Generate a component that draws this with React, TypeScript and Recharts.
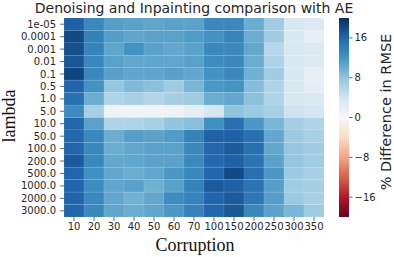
import React from 'react';
import { BarChart, Bar, XAxis, YAxis, Cell } from 'recharts';

const CORRUPTION = ['10', '20', '30', '40', '50', '60', '70', '100', '150', '200', '250', '300', '350'];

const LAMBDAS = [
  '1e-05', '0.0001', '0.001', '0.01', '0.1', '0.5', '1.0', '5.0',
  '10.0', '50.0', '100.0', '200.0', '500.0', '1000.0', '2000.0', '3000.0',
];

// % difference in RMSE, one row per lambda, one column per corruption level
const PCT_DIFF = [
  [16.4, 13.0, 11.1, 10.8, 10.6, 10.8, 10.8, 13.0, 13.0, 10.0, 7.1, 3.3, 3.0],
  [18.1, 13.6, 11.1, 10.6, 10.8, 10.8, 11.3, 12.1, 13.4, 10.0, 7.1, 3.2, 1.7],
  [17.7, 13.4, 10.6, 12.1, 10.8, 10.4, 10.8, 13.0, 13.0, 10.4, 5.6, 3.3, 2.8],
  [17.1, 13.0, 10.9, 10.4, 10.6, 10.5, 10.9, 12.5, 13.0, 10.0, 6.3, 3.2, 2.8],
  [18.4, 13.0, 10.9, 10.5, 10.6, 10.9, 10.4, 12.1, 13.0, 9.7, 7.1, 3.2, 1.5],
  [16.0, 12.1, 7.8, 8.9, 8.3, 7.1, 9.2, 11.6, 12.0, 8.6, 6.1, 3.3, 2.0],
  [15.1, 10.0, 6.1, 6.6, 6.0, 6.8, 7.1, 10.0, 10.4, 8.3, 6.1, 3.3, 3.0],
  [12.7, 6.6, 1.0, 0.6, 0.6, 0.8, 2.0, 3.5, 8.1, 7.4, 6.6, 4.1, 3.7],
  [15.8, 10.8, 6.1, 6.1, 6.6, 8.0, 8.5, 12.3, 15.1, 11.6, 9.2, 6.8, 6.1],
  [15.8, 13.0, 10.0, 11.1, 10.8, 11.3, 13.5, 16.4, 16.4, 15.1, 10.4, 7.4, 6.6],
  [16.0, 13.0, 10.0, 10.4, 10.8, 10.8, 13.0, 15.8, 16.9, 15.1, 10.4, 7.8, 7.1],
  [16.9, 13.0, 10.4, 10.5, 10.8, 10.8, 13.0, 15.8, 16.4, 14.8, 10.8, 7.9, 7.1],
  [16.0, 12.3, 10.4, 10.0, 10.5, 11.6, 13.0, 16.0, 18.1, 15.1, 11.6, 7.4, 6.6],
  [16.0, 12.5, 10.5, 10.8, 9.7, 10.8, 13.5, 16.8, 16.4, 14.8, 11.1, 7.1, 6.8],
  [16.0, 13.0, 10.4, 9.6, 10.4, 12.5, 13.5, 16.0, 16.9, 14.5, 11.1, 7.4, 6.6],
  [16.0, 13.0, 10.6, 10.0, 10.6, 11.6, 13.5, 16.0, 17.1, 13.0, 10.8, 9.2, 7.1],
];

const CBAR_RANGE = [-20, 20];
const CBAR_TICKS = [-16, -8, 0, 8, 16];

// matplotlib RdBu, low -> high
const RDBU = [
  '#67001f', '#b2182b', '#d6604d', '#f4a582', '#fddbc7', '#f7f7f7',
  '#d1e5f0', '#92c5de', '#4393c3', '#2166ac', '#053061',
];

const hexToRgb = (h: string) => [1, 3, 5].map(i => parseInt(h.slice(i, i + 2), 16));

const rdbu = (v: number) => {
  const [lo, hi] = CBAR_RANGE;
  const t = Math.min(1, Math.max(0, (v - lo) / (hi - lo))) * (RDBU.length - 1);
  const i = Math.min(RDBU.length - 2, Math.floor(t));
  const f = t - i;
  const a = hexToRgb(RDBU[i]);
  const b = hexToRgb(RDBU[i + 1]);
  const c = a.map((x, k) => Math.round(x + (b[k] - x) * f));
  return `rgb(${c[0]},${c[1]},${c[2]})`;
};

const fmtTick = (v: number) => (v < 0 ? `\u2212${Math.abs(v)}` : String(v));

const TEXT = '#262626';
const SANS = '"DejaVu Sans", sans-serif';
const SERIF = '"Liberation Serif", serif';

const heatData = CORRUPTION.map(c => {
  const row: { [key: string]: any } = { corr: c };
  LAMBDAS.forEach((_, i) => { row[`r${i}`] = 1; });
  return row;
});

const cbarData = [{ name: 'cbar', range: CBAR_RANGE }];

const App: React.FC = () => {
  return (
    <div style={{ position: 'absolute', left: 0, top: 0, width: 394, height: 257, background: '#fff', fontFamily: SANS }}>
      <div style={{ position: 'absolute', left: 0, top: 0, width: 388, textAlign: 'center', fontSize: 14, lineHeight: '17px', color: TEXT, whiteSpace: 'nowrap' }}>
        Denoising and Inpainting comparison with AE
      </div>

      <div style={{ position: 'absolute', left: 0, top: 0 }}>
        <BarChart width={394} height={257} data={heatData} barCategoryGap={0} barGap={0}
          margin={{ top: 18, right: 70, bottom: 18, left: 7 }}>
          <XAxis dataKey="corr" interval={0} axisLine={false} tickSize={4} tickMargin={2}
            tick={{ fontSize: 10, fill: TEXT }} tickLine={{ stroke: '#444', strokeWidth: 0.8 }} height={22}
            label={() => (
              <text x={195} y={251} textAnchor="middle" fontSize={18} fontFamily={SERIF} fill="#111">Corruption</text>
            )} />
          <YAxis type="number" domain={[0, LAMBDAS.length]} reversed width={57} interval={0}
            ticks={LAMBDAS.map((_, i) => i + 0.5)} tickFormatter={(v: number) => LAMBDAS[Math.floor(v)]}
            axisLine={false} tickSize={4} tickMargin={4}
            tick={{ fontSize: 10, fill: TEXT }} tickLine={{ stroke: '#444', strokeWidth: 0.8 }}
            label={() => (
              <text x={15} y={116} textAnchor="middle" fontSize={18} fontFamily={SERIF} fill="#111"
                transform="rotate(-90 15 116)">lambda</text>
            )} />
          {LAMBDAS.map((_, i) => (
            <Bar key={i} dataKey={`r${i}`} stackId="heat" isAnimationActive={false}
              stroke="#ffffff" strokeOpacity={0.12} strokeWidth={0.6}>
              {CORRUPTION.map((c, j) => (
                <Cell key={c} fill={rdbu(PCT_DIFF[i][j])} />
              ))}
            </Bar>
          ))}
        </BarChart>
      </div>

      <div style={{ position: 'absolute', left: 330, top: 0 }}>
        <BarChart width={64} height={257} data={cbarData} barCategoryGap={0}
          margin={{ top: 18, right: 0, bottom: 40, left: 9 }}>
          <defs>
            <linearGradient id="rdbuGrad" x1="0" y1="0" x2="0" y2="1">
              {RDBU.slice().reverse().map((col, k) => (
                <stop key={k} offset={`${(k / (RDBU.length - 1)) * 100}%`} stopColor={col} />
              ))}
            </linearGradient>
          </defs>
          <XAxis dataKey="name" hide />
          <YAxis type="number" orientation="right" domain={CBAR_RANGE} ticks={CBAR_TICKS} width={45}
            interval={0} axisLine={false} tickSize={3.5} tickMargin={2} tickFormatter={fmtTick}
            tick={{ fontSize: 10, fill: TEXT, textAnchor: 'start' }} tickLine={{ stroke: '#444', strokeWidth: 0.8 }}
            label={() => (
              <text x={55.5} y={112} textAnchor="middle" fontSize={14.5} fill={TEXT}
                transform="rotate(-90 55.5 112)" dominantBaseline="central">% Difference in RMSE</text>
            )} />
          <Bar dataKey="range" fill="url(#rdbuGrad)" isAnimationActive={false} />
        </BarChart>
      </div>
    </div>
  );
};

export default App;
